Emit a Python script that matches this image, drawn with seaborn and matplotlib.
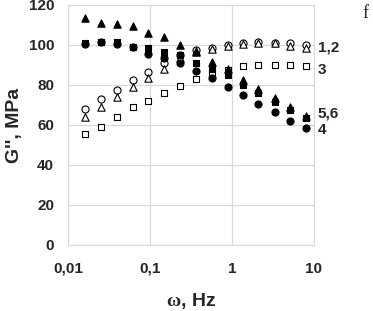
import numpy as np
import pandas as pd
import matplotlib
matplotlib.use("Agg")
import matplotlib.pyplot as plt
import seaborn as sns

freq = [0.016, 0.025, 0.04, 0.062, 0.095, 0.15, 0.23, 0.36, 0.57, 0.89, 1.36, 2.1, 3.3, 5.1, 8.0]
s1_open_circle = [68, 72.8, 77.5, 82.5, 86.7, 90.8, 95, 97.5, 98.3, 100, 101, 101.5, 101.2, 100.8, 100]
s2_open_triangle = [64, 69, 73.8, 79, 83.3, 87.8, 93.5, 97, 97.8, 99.5, 100.5, 101, 101, 99.5, 98.7]
s3_open_square = [55.5, 59, 63.8, 68.8, 72.2, 76.2, 79.5, 82.8, 85.5, 87.5, 89.5, 90.2, 90.2, 90.2, 89.5]
s4_filled_circle = [100.5, 101.5, 100.5, 99, 95.5, 93.3, 90.8, 87, 83.3, 79.2, 75, 70.5, 66.7, 62.2, 58.3]
s5_filled_square = [100.8, 101.7, 101.7, 99.2, 98.3, 96.7, 95, 91.2, 87.8, 85, 80, 75.8, 71.7, 67.5, 63.3]
s6_filled_triangle = [113.3, 110.8, 110.5, 109.5, 106.2, 103.8, 100, 96.5, 91.7, 88, 82.5, 77.8, 73.3, 68.8, 64.5]

series_labels = ["1,2", "3", "5,6", "4"]
x_ticks = [0.01, 0.1, 1, 10]
x_ticklabels = ["0,01", "0,1", "1", "10"]
y_ticks = [0, 20, 40, 60, 80, 100, 120]

sns.set_style("white")
plt.rcParams["font.family"] = ["Liberation Sans", "DejaVu Sans"]
plt.rcParams["mathtext.fontset"] = "custom"
plt.rcParams["mathtext.it"] = "Liberation Serif:bold"
plt.rcParams["mathtext.rm"] = "Liberation Serif:bold"
plt.rcParams["mathtext.bf"] = "Liberation Serif:bold"

fig = plt.figure(figsize=(3.73, 3.11), dpi=100)
ax = fig.add_axes([68/373, 1-245/311, (314-68)/373, (245-5)/311])

specs = [
    (s3_open_square, "s", "white", 22),
    (s1_open_circle, "o", "white", 26),
    (s2_open_triangle, "^", "white", 28),
    (s4_filled_circle, "o", "black", 26),
    (s5_filled_square, "s", "black", 22),
    (s6_filled_triangle, "^", "black", 28),
]
for vals, mk, fc, sz in specs:
    df = pd.DataFrame({"freq": freq, "G": vals})
    sns.scatterplot(data=df, x="freq", y="G", marker=mk, s=sz, facecolor=fc,
                    edgecolor="black", linewidth=0.8, ax=ax, zorder=3)

ax.set_xscale("log")
ax.set_xlim(0.01, 10)
ax.set_ylim(0, 120)
ax.set_xticks(x_ticks)
ax.set_xticklabels(x_ticklabels)
ax.set_yticks(y_ticks)
ax.minorticks_off()
ax.tick_params(axis="both", length=0, labelsize=11)
ax.tick_params(axis="x", pad=12)
ax.tick_params(axis="y", pad=10)
for lab in ax.get_xticklabels() + ax.get_yticklabels():
    lab.set_fontweight("bold")
ax.grid(True, color="#d9d9d9", linewidth=0.9)
for sp in ax.spines.values():
    sp.set_color("#d9d9d9")
ax.set_xlabel(r"$\omega$, Hz", fontsize=14, fontweight="bold", va="center")
ax.set_ylabel("G'', MPa", fontsize=14, fontweight="bold", va="center")
ax.xaxis.set_label_coords(0.5, (245-301)/240)
ax.yaxis.set_label_coords((15-68)/246, 0.5)

label_y = [99, 87.5, 66, 57.5]
for lab, yy in zip(series_labels, label_y):
    ax.text(1.015, yy / 120, lab, transform=ax.transAxes, fontsize=11,
            fontweight="bold", va="center", ha="left")

fig.text(362/373, 1-14/311, "f", family="Liberation Serif", fontsize=13, va="center", ha="left")

fig.savefig("out.png", dpi=100)
